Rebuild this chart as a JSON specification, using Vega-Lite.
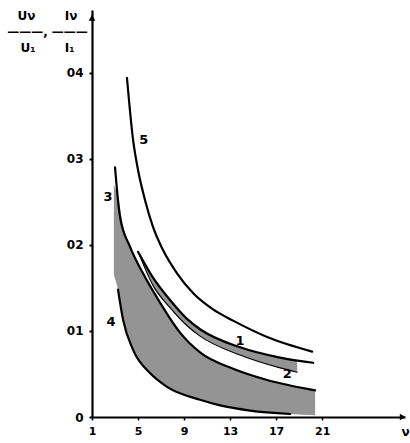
{
  "$schema": "https://vega.github.io/schema/vega-lite/v6.json",
  "autosize": {"type": "none"},
  "padding": {"left": 92, "top": 10, "right": 5, "bottom": 26},
  "width": 313,
  "height": 407,
  "background": "white",
  "config": {"view": {"stroke": null}, "font": "DejaVu Sans"},
  "datasets": {
    "broad": [
      {"x": 2.9, "upper": 0.27, "lower": 0.165},
      {"x": 3.26, "upper": 0.256, "lower": 0.148},
      {"x": 3.7, "upper": 0.222, "lower": 0.113},
      {"x": 4.57, "upper": 0.191, "lower": 0.078},
      {"x": 6.04, "upper": 0.153, "lower": 0.051},
      {"x": 7.52, "upper": 0.121, "lower": 0.035},
      {"x": 10.39, "upper": 0.075, "lower": 0.02},
      {"x": 12.13, "upper": 0.062, "lower": 0.0135},
      {"x": 14.74, "upper": 0.049, "lower": 0.0075},
      {"x": 18.22, "upper": 0.037, "lower": 0.0035},
      {"x": 20.39, "upper": 0.031, "lower": 0.002}
    ],
    "narrow": [
      {"x": 5.1, "upper": 0.19, "lower": 0.189},
      {"x": 6.3, "upper": 0.162, "lower": 0.153},
      {"x": 7.78, "upper": 0.136, "lower": 0.127},
      {"x": 9.26, "upper": 0.114, "lower": 0.106},
      {"x": 10.39, "upper": 0.102, "lower": 0.094},
      {"x": 13.87, "upper": 0.081, "lower": 0.072},
      {"x": 17.35, "upper": 0.069, "lower": 0.057},
      {"x": 18.83, "upper": 0.066, "lower": 0.052}
    ],
    "curves": [
      {"curve": "5", "x": 4.04, "y": 0.394},
      {"curve": "5", "x": 4.57, "y": 0.322},
      {"curve": "5", "x": 5.0, "y": 0.287},
      {"curve": "5", "x": 5.61, "y": 0.252},
      {"curve": "5", "x": 6.3, "y": 0.221},
      {"curve": "5", "x": 7.17, "y": 0.194},
      {"curve": "5", "x": 8.39, "y": 0.167},
      {"curve": "5", "x": 9.78, "y": 0.144},
      {"curve": "5", "x": 11.52, "y": 0.125},
      {"curve": "5", "x": 13.26, "y": 0.112},
      {"curve": "5", "x": 16.22, "y": 0.093},
      {"curve": "5", "x": 20.13, "y": 0.076},
      {"curve": "3", "x": 3.0, "y": 0.29},
      {"curve": "3", "x": 3.43, "y": 0.233},
      {"curve": "3", "x": 4.3, "y": 0.198},
      {"curve": "3", "x": 5.43, "y": 0.167},
      {"curve": "3", "x": 6.91, "y": 0.133},
      {"curve": "3", "x": 8.65, "y": 0.098},
      {"curve": "3", "x": 10.39, "y": 0.075},
      {"curve": "3", "x": 13.26, "y": 0.056},
      {"curve": "3", "x": 16.22, "y": 0.043},
      {"curve": "3", "x": 20.39, "y": 0.031},
      {"curve": "4", "x": 3.26, "y": 0.148},
      {"curve": "4", "x": 3.7, "y": 0.113},
      {"curve": "4", "x": 4.57, "y": 0.078},
      {"curve": "4", "x": 6.04, "y": 0.051},
      {"curve": "4", "x": 7.52, "y": 0.035},
      {"curve": "4", "x": 10.39, "y": 0.02},
      {"curve": "4", "x": 12.13, "y": 0.0135},
      {"curve": "4", "x": 14.74, "y": 0.0075},
      {"curve": "4", "x": 18.22, "y": 0.0035},
      {"curve": "1", "x": 5.0, "y": 0.192},
      {"curve": "1", "x": 6.3, "y": 0.162},
      {"curve": "1", "x": 7.78, "y": 0.136},
      {"curve": "1", "x": 9.26, "y": 0.114},
      {"curve": "1", "x": 10.39, "y": 0.102},
      {"curve": "1", "x": 13.87, "y": 0.081},
      {"curve": "1", "x": 17.35, "y": 0.069},
      {"curve": "1", "x": 20.22, "y": 0.063},
      {"curve": "2", "x": 5.1, "y": 0.189},
      {"curve": "2", "x": 6.3, "y": 0.153},
      {"curve": "2", "x": 7.78, "y": 0.127},
      {"curve": "2", "x": 9.26, "y": 0.106},
      {"curve": "2", "x": 10.39, "y": 0.094},
      {"curve": "2", "x": 13.87, "y": 0.072},
      {"curve": "2", "x": 17.35, "y": 0.057},
      {"curve": "2", "x": 18.83, "y": 0.052}
    ],
    "labels": [
      {"label": "5", "x": 5.5, "y": 0.322},
      {"label": "3", "x": 2.4, "y": 0.256},
      {"label": "4", "x": 2.65, "y": 0.11},
      {"label": "1", "x": 13.87, "y": 0.088},
      {"label": "2", "x": 17.96, "y": 0.05}
    ],
    "arrows": [
      {"axis": "y", "x": 1, "y": 0.464, "shape": "triangle-up"},
      {"axis": "x", "x": 28.0, "y": 0, "shape": "triangle-right"}
    ]
  },
  "encoding": {
    "x": {"field": "x", "type": "quantitative", "scale": {"domain": [1, 28.2], "nice": false, "zero": false},
      "axis": {"values": [1, 5, 9, 13, 17, 21], "title": "ν", "titleX": 313, "titleY": 18, "titleAlign": "center", "titleBaseline": "alphabetic",
        "titleFont": "DejaVu Sans", "titleFontWeight": "bold", "titleFontSize": 12,
        "labelFont": "DejaVu Sans", "labelFontWeight": "bold", "labelFontSize": 11, "labelColor": "black", "labelFlush": false,
        "domainColor": "black", "domainWidth": 2.2, "tickColor": "black", "tickSize": 3, "tickWidth": 1.5, "labelPadding": 5, "grid": false}},
    "y": {"field": "y", "type": "quantitative", "scale": {"domain": [0, 0.473], "nice": false},
      "axis": {"values": [0, 0.1, 0.2, 0.3, 0.4], "labelExpr": "datum.value == 0 ? '0' : replace(format(datum.value, '.1f'), '.', '')",
        "title": ["Uν\u00a0\u00a0\u00a0\u00a0\u00a0\u00a0\u00a0Iν", "———,\u00a0———", "U₁\u00a0\u00a0\u00a0\u00a0\u00a0\u00a0\u00a0I₁"], "titleAngle": 0, "titleX": -45, "titleY": 0, "titleAlign": "center", "titleBaseline": "top",
        "titleFont": "DejaVu Sans", "titleFontWeight": "bold", "titleFontSize": 12, "titleLineHeight": 16,
        "labelFont": "DejaVu Sans", "labelFontWeight": "bold", "labelFontSize": 12, "labelColor": "black", "labelPadding": 6,
        "domainColor": "black", "domainWidth": 2.2, "tickColor": "black", "tickSize": 3, "tickWidth": 2, "grid": false}}
  },
  "layer": [
    {"data": {"name": "broad"}, "mark": {"type": "area", "interpolate": "monotone", "color": "#000", "opacity": 0.42},
      "encoding": {"y": {"field": "upper", "type": "quantitative"}, "y2": {"field": "lower"}}},
    {"data": {"name": "narrow"}, "mark": {"type": "area", "interpolate": "monotone", "color": "#000", "opacity": 0.42},
      "encoding": {"y": {"field": "upper", "type": "quantitative"}, "y2": {"field": "lower"}}},
    {"data": {"name": "curves"}, "transform": [{"filter": "datum.curve != '2'"}],
      "mark": {"type": "line", "interpolate": "monotone", "color": "black", "strokeWidth": 2.2, "strokeCap": "round"},
      "encoding": {"detail": {"field": "curve"}}},
    {"data": {"name": "curves"}, "transform": [{"filter": "datum.curve == '2'"}],
      "mark": {"type": "line", "interpolate": "monotone", "color": "black", "strokeWidth": 1.2, "strokeCap": "round"},
      "encoding": {"detail": {"field": "curve"}}},
    {"data": {"name": "labels"}, "mark": {"type": "text", "font": "DejaVu Sans", "fontWeight": "bold", "fontSize": 13, "color": "black"},
      "encoding": {"text": {"field": "label"}}},
    {"data": {"name": "arrows"}, "mark": {"type": "point", "filled": true, "color": "black", "size": 45, "opacity": 1},
      "encoding": {"shape": {"field": "shape", "type": "nominal", "scale": null}}}
  ]
}
